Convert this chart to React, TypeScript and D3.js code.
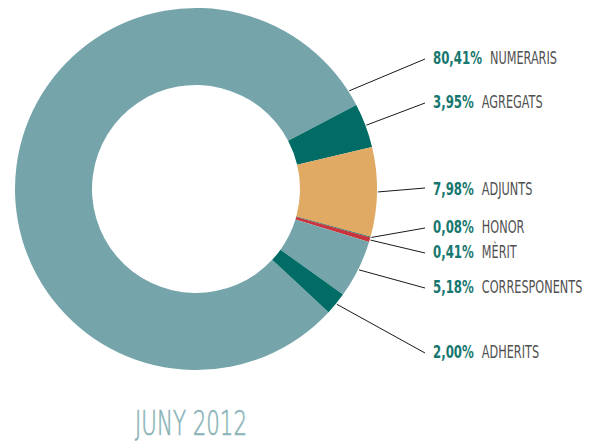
import React from 'react';
import * as d3 from 'd3';

const categories = ['NUMERARIS', 'AGREGATS', 'ADJUNTS', 'HONOR', 'MÈRIT', 'CORRESPONENTS', 'ADHERITS'];
const values = [80.41, 3.95, 7.98, 0.08, 0.41, 5.18, 2.0];
const colors = ['#75a5aa', '#006c65', '#e0a964', '#006c65', '#c9343c', '#75a5aa', '#006c65'];
const labelBaselines = [64, 108, 195, 233, 258, 293, 358];
const title = 'JUNY 2012';

const W = 589;
const H = 443;
const cx = 196;
const cy = 189;
const R = 181;
const r = 104;
const startDeg = 132.9;
const FAM = 'DejaVu Sans Condensed';
const FONT = `'${FAM}', sans-serif`;

const locale = d3.formatLocale({ decimal: ',', thousands: '.', grouping: [3], currency: ['', '€'] });
const fmt = locale.format('.2f');

let ctx: CanvasRenderingContext2D | null = null;
function measure(text: string, font: string): number {
  if (!ctx && typeof document !== 'undefined') ctx = document.createElement('canvas').getContext('2d');
  if (!ctx) return text.length * 8;
  ctx.font = font;
  return ctx.measureText(text).width;
}

export default function App() {
  const rad = (deg: number) => (deg * Math.PI) / 180;
  const pie = d3
    .pie<number>()
    .sort(null)
    .value((d) => d)
    .startAngle(rad(startDeg))
    .endAngle(rad(startDeg) + 2 * Math.PI);
  const arcs = pie(values);
  const arc = d3.arc<d3.PieArcDatum<number>>().innerRadius(r).outerRadius(R);

  const fs = 17.5;
  const pctFont = `bold ${fs}px '${FAM}'`;
  const nameFont = `${fs}px '${FAM}'`;
  // horizontal condensing so glyphs match the narrow face of the original
  const pctScale = 49 / measure('80,41%', pctFont);
  const nameScale = 67 / measure('NUMERARIS', nameFont);
  const titleFont = `200 33px 'DejaVu Sans'`;
  const titleScale = 112 / measure(title, titleFont);
  const labelX = 433;
  const lineEndX = 425;

  return (
    <svg width={W} height={H} style={{ position: 'absolute', left: 0, top: 0 }}>
      <rect width={W} height={H} fill="#fff" />
      <g transform={`translate(${cx},${cy})`}>
        {arcs.map((d, i) => (
          <path key={i} d={arc(d) || ''} fill={colors[i]} />
        ))}
      </g>
      {arcs.map((d, i) => {
        const a = i === 0 ? d.endAngle - rad(5) : (d.startAngle + d.endAngle) / 2;
        const x0 = cx + (R + 1) * Math.sin(a);
        const y0 = cy - (R + 1) * Math.cos(a);
        const base = labelBaselines[i];
        const y1 = i === 2 ? base - 7 : base - 5;
        const pct = fmt(values[i]) + '%';
        const pw = measure(pct, pctFont) * pctScale;
        const nx = labelX + pw + 8;
        return (
          <g key={i}>
            <line x1={x0} y1={y0} x2={lineEndX} y2={y1} stroke="#1a1a1a" strokeWidth={1} />
            <text
              transform={`translate(${labelX},${base}) scale(${pctScale},1)`}
              fontFamily={FONT}
              fontWeight="bold"
              fontSize={fs}
              fill="#17776f"
            >
              {pct}
            </text>
            <text
              transform={`translate(${nx},${base}) scale(${nameScale},1)`}
              fontFamily={FONT}
              fontSize={fs}
              fill="#505050"
            >
              {categories[i]}
            </text>
          </g>
        );
      })}
      <text
        transform={`translate(191,435) scale(${titleScale},1)`}
        textAnchor="middle"
        fontFamily="'DejaVu Sans', sans-serif"
        fontWeight={200}
        fontSize={33}
        fill="#8ab4b9"
        stroke="#8ab4b9"
        strokeWidth={0.7}
      >
        {title}
      </text>
    </svg>
  );
}
